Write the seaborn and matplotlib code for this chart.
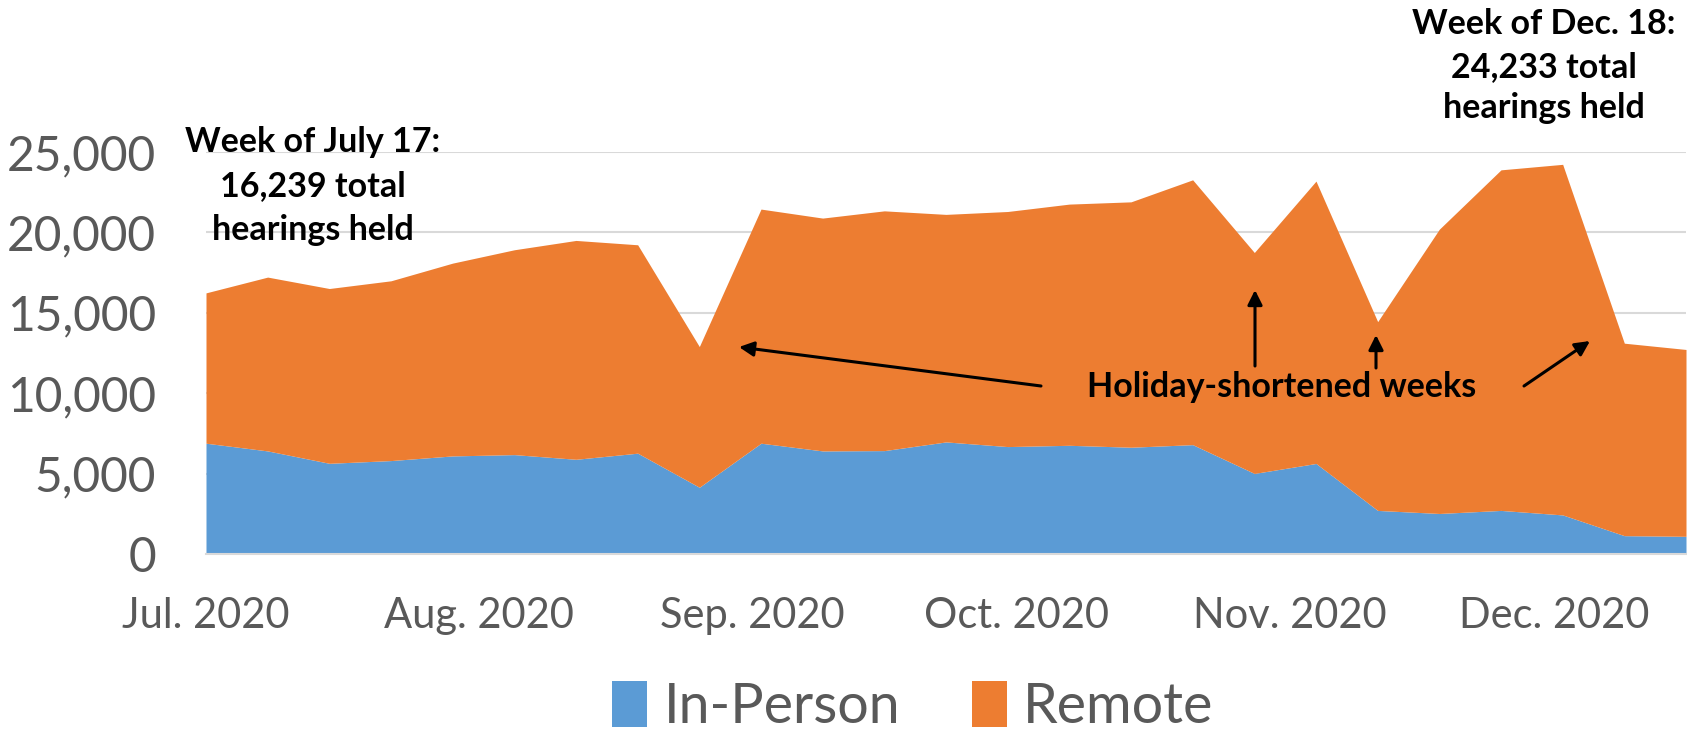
import numpy as np
import pandas as pd
import matplotlib
matplotlib.use("Agg")
import matplotlib.pyplot as plt
import matplotlib.dates as mdates
import seaborn as sns

# ---- data ----
week_start = pd.date_range("2020-07-17", periods=25, freq="7D")
in_person = [6890, 6410, 5640, 5810, 6100, 6180, 5890, 6270, 4150, 6890,
             6410, 6430, 6970, 6680, 6760, 6640, 6800, 5010, 5630, 2710,
             2520, 2710, 2430, 1140, 1100]
remote = [9349, 10810, 10870, 11180, 11990, 12740, 13610, 12960, 8750, 14560,
          14480, 14910, 14150, 14620, 15000, 15260, 16470, 13740, 17560, 11740,
          17680, 21180, 21803, 11970, 11620]
series_names = ["In-Person", "Remote"]
series_colors = ["#5B9BD5", "#ED7D31"]
tick_dates = ["2020-07-17", "2020-08-17", "2020-09-17", "2020-10-17", "2020-11-17", "2020-12-17"]
tick_labels = ["Jul. 2020", "Aug. 2020", "Sep. 2020", "Oct. 2020", "Nov. 2020", "Dec. 2020"]
y_ticks = [0, 5000, 10000, 15000, 20000, 25000]

df = pd.DataFrame({"week": week_start, "In-Person": in_person, "Remote": remote})

sns.set_theme(style="white")
plt.rcParams["font.family"] = ["Lato", "DejaVu Sans"]

W, H = 1687, 731
fig = plt.figure(figsize=(W / 100, H / 100), dpi=100)
ax = fig.add_axes([206 / W, 1 - 554 / H, (1686 - 206) / W, (554 - 152) / H])

gray_text = "#595959"
grid_c = "#D9D9D9"

ax.stackplot(df["week"], df["In-Person"], df["Remote"],
             colors=series_colors, labels=series_names, linewidth=0, zorder=2)

ax.set_xlim(week_start[0], week_start[-1])
ax.set_ylim(0, 25000)
ax.set_yticks(y_ticks)
ax.set_yticklabels([f"{v:,}" for v in y_ticks], fontsize=34.5, color=gray_text)
ax.yaxis.grid(True, color=grid_c, linewidth=1.5, zorder=0)
ax.xaxis.grid(False)
ax.set_axisbelow(True)
ax.tick_params(axis="y", length=0, pad=36)

ax.set_xticks(pd.to_datetime(tick_dates))
ax.set_xticklabels(tick_labels, fontsize=30, color=gray_text)
ax.tick_params(axis="x", direction="out", length=11, width=1.2, color=grid_c, pad=20)

for s in ["top", "right", "left"]:
    ax.spines[s].set_visible(False)
ax.spines["bottom"].set_color(grid_c)
ax.spines["bottom"].set_linewidth(1.5)
ax.set_xlabel("")
ax.set_ylabel("")

# legend
leg = fig.legend(*ax.get_legend_handles_labels(), loc="center", bbox_to_anchor=(913 / W, 1 - 707 / H),
                 ncol=2, frameon=False, fontsize=40, handlelength=0.62, handleheight=0.9,
                 handletextpad=0.3, columnspacing=1.3, labelcolor=gray_text)

def fx(px):
    return px / W

def fy(py):
    return 1 - py / H

bold = dict(fontsize=24.5, fontweight="bold", color="black", ha="center", va="baseline")
for txt, yb in zip(["Week of July 17:", "16,239 total", "hearings held"], [152, 196, 240]):
    fig.text(fx(313), fy(yb), txt, **bold)
for txt, yb in zip(["Week of Dec. 18:", "24,233 total", "hearings held"], [34, 77, 118]):
    fig.text(fx(1544), fy(yb), txt, **bold)
fig.text(fx(1282), fy(397), "Holiday-shortened weeks", **bold)

arrows = [((1041, 386), (739, 347)),
          ((1255, 366), (1255, 290)),
          ((1376, 368), (1376, 335)),
          ((1524, 386), (1590, 341))]
for (x0, y0), (x1, y1) in arrows:
    fig.add_artist(matplotlib.patches.FancyArrowPatch(
        (fx(x0), fy(y0)), (fx(x1), fy(y1)), transform=fig.transFigure,
        arrowstyle="-|>", mutation_scale=22, linewidth=2.2, color="black",
        shrinkA=0, shrinkB=0))

fig.savefig("out.png", dpi=100)
